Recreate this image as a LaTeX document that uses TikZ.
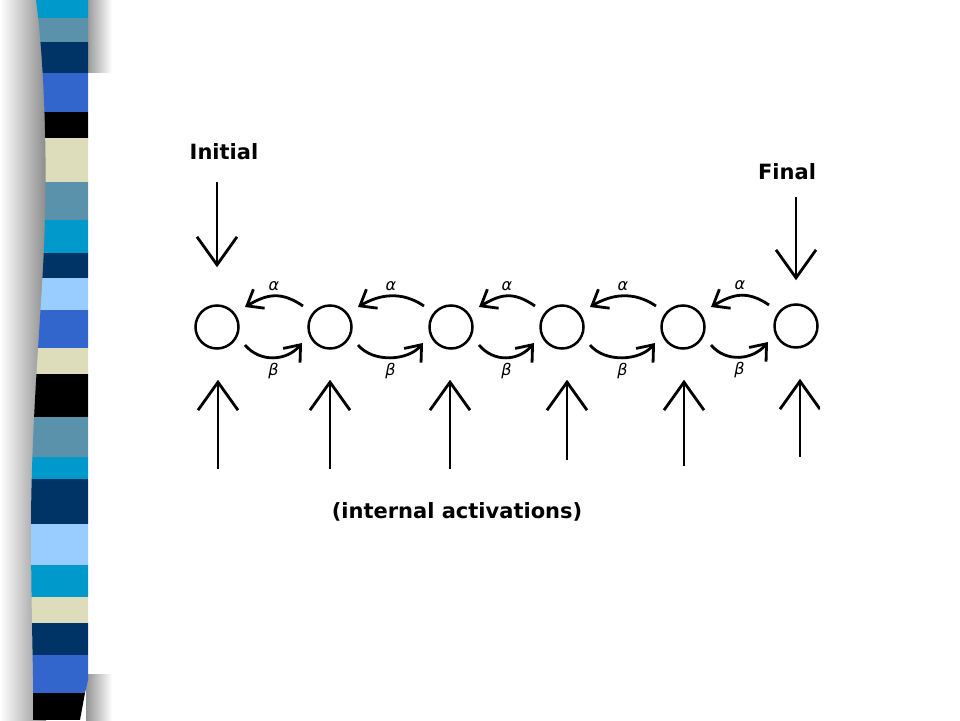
\documentclass[tikz,border=0pt]{standalone}
\usepackage{fontspec}
\setmainfont{DejaVu Sans}
\usetikzlibrary{arrows.meta}
\definecolor{cyanbar}{HTML}{0099CC}
\definecolor{steelbar}{HTML}{5A91AB}
\definecolor{navybar}{HTML}{003366}
\definecolor{royalbar}{HTML}{3366CC}
\definecolor{beigebar}{HTML}{DDDDBB}
\definecolor{skybar}{HTML}{99CCFF}
\begin{document}
\begin{tikzpicture}[x=1pt,y=-1pt,
    state/.style={circle,draw,line width=2.5pt,minimum size=43pt,inner sep=0pt},
    big/.style={line width=2.8pt,-{Straight Barb[length=28pt,width=40pt]}},
    small/.style={line width=2.8pt,-{Straight Barb[length=14pt,width=22pt]}},
    title/.style={font=\fontsize{21}{25}\selectfont\bfseries,inner sep=0pt},
    greek/.style={font=\fontsize{16}{18}\selectfont\itshape,inner sep=0pt}]
\useasboundingbox (0,0) rectangle (960,720);
\fill[white] (0,0) rectangle (960,720);
\shade[left color=white,right color=black!45] (0,0) rectangle (46,720);
\shade[left color=black!42,right color=white] (86,0) rectangle (112,72);
\shade[left color=black!42,right color=white] (86,674) rectangle (112,720);
\begin{scope}
\clip (36,0) .. controls (44,60) and (47,150) .. (45,220) .. controls (43,300) and (32,400) .. (31,520) .. controls (31,620) and (34,680) .. (33,720) -- (80,720) -- (85,693) -- (88,680) -- (88,0) -- cycle;
\foreach \ya/\yb/\c in {0/18/cyanbar,18/42/steelbar,42/73/navybar,73/112/royalbar,112/138/black,138/182/beigebar,182/220/steelbar,220/253/cyanbar,253/278/navybar,278/310/skybar,310/348/royalbar,348/374/beigebar,374/417/black,417/457/steelbar,457/479/cyanbar,479/524/navybar,524/565/skybar,565/597/cyanbar,597/623/beigebar,623/655/navybar,655/693/royalbar,693/720/black}
    \fill[\c] (20,\ya) rectangle (90,\yb);
\end{scope}
\begin{scope}
\clip (0,0) rectangle (820,720);
\node[state] (1) at (217,327) {};
\node[state] (2) at (330,327) {};
\node[state] (3) at (451,327) {};
\node[state] (4) at (562,327) {};
\node[state] (5) at (683,327) {};
\node[state] (6) at (796,326) {};
\node[title] (initial) at (224,152) {Initial};
\node[title] (final) at (787,172) {Final};
\node[title] (internal) at (457,512) {(internal activations)};
\draw[big,shorten <=22pt,shorten >=37pt] (initial.south -| 1) -- (1.north);
\draw[big,shorten <=17pt,shorten >=23pt] (final.south -| 6) -- (6.north);
\foreach \i/\x/\y in {1/218/469,2/330/469,3/450/469,4/567/460,5/684/466,6/800/457}
    \coordinate (a\i) at (\x,\y);
\foreach \i in {1,...,6}
    \draw[big,shorten >=30pt] (a\i) -- (a\i |- \i.south);
\foreach \i[count=\j from 2] in {1,...,5} {
    \draw[small] ([shift={(-27,-21)}]\j.center) .. controls +(-22,-15) and +(22,-13) .. node[greek,above=4pt] {α} ([shift={(28,-20)}]\i.center);
    \draw[small] ([shift={(28,18)}]\i.center) .. controls +(15,18) and +(-15,18) .. node[greek,below=4pt] {β} ([shift={(-28,16)}]\j.center);
}
\end{scope}
\end{tikzpicture}
\end{document}
